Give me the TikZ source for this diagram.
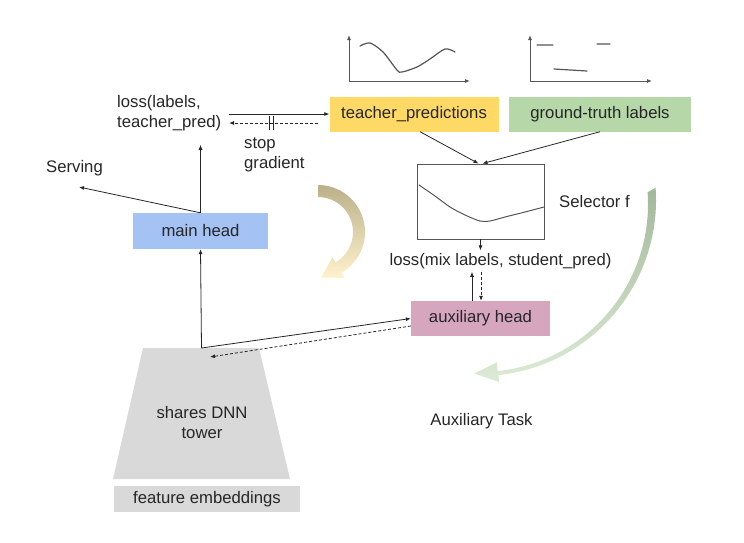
\documentclass[tikz,border=0pt]{standalone}
\usepackage{fontspec}
\setmainfont{Liberation Sans}
\usetikzlibrary{arrows.meta,calc}

\definecolor{predyellow}{HTML}{FFD966}
\definecolor{truthgreen}{HTML}{B6D7A8}
\definecolor{mainblue}{HTML}{A4C2F4}
\definecolor{auxpink}{HTML}{D5A6BD}
\definecolor{towergray}{HTML}{D9D9D9}
\definecolor{plotgray}{HTML}{555555}
\definecolor{loopbrown}{HTML}{BAB08A}
\definecolor{loopyellow}{HTML}{FFF2CC}
\definecolor{selgreen}{HTML}{A3B79A}
\definecolor{selpale}{HTML}{DDEBD6}

\tikzset{
  headbox/.style={minimum height=35pt, inner sep=0pt, text=black!85},
  txt/.style={inner sep=0pt, align=left, text=black!85},
  arr/.style={-{Latex[length=5pt,width=4pt]}, line width=0.8pt, draw=black!85},
  darr/.style={arr, dash pattern=on 3pt off 2pt},
  axis/.style={-{Latex[length=5pt,width=4pt]}, line width=0.9pt, draw=plotgray},
  curve/.style={line width=1.2pt, draw=plotgray, line cap=round},
}

\begin{document}
\begin{tikzpicture}[x=1pt, y=-1pt, font=\fontsize{16.7}{20}\selectfont]
\useasboundingbox (0,0) rectangle (744,542);

% shaded loop arrows
\coordinate (loopc) at (318,232);
\shade[top color=loopbrown, middle color=loopbrown!50!loopyellow, bottom color=loopyellow]
  ($(loopc)+(-90:47)$) arc[start angle=-90, end angle=60, radius=47]
  -- ($(loopc)+(60:53)$) -- ($(loopc)+(60:41)+(150:20)$) -- ($(loopc)+(60:29)$)
  -- ($(loopc)+(60:35)$) arc[start angle=60, end angle=-90, radius=35] -- cycle;
\coordinate (selc) at (480,200);
\shade[top color=selgreen, middle color=selpale!35!white, bottom color=selpale]
  ($(selc)+(-4:176)$) arc[start angle=-4, end angle=84, radius=176]
  -- ($(selc)+(84:183)$) -- ($(selc)+(84:172)+(174:24)$) -- ($(selc)+(84:163)$)
  -- ($(selc)+(0,4)+(84:168)$) arc[start angle=84, end angle=-4, radius=168] -- cycle;

% small plots
\draw[axis] (349,81) -- (349,35);
\draw[axis] (349,81) -- (470,81);
\draw[curve] plot[smooth] coordinates {(360,46) (370,43) (383,52) (397,70) (402,72) (417,67) (430,59) (445,49) (455,52)};
\draw[axis] (530,81) -- (530,35);
\draw[axis] (530,81) -- (652,81);
\draw[curve] (537,45) -- (553,45) (597,44) -- (610,44) (554,69) -- (587,71);

% boxes
\node[headbox, fill=predyellow, minimum width=169pt] (teacher) at (414,114) {teacher\_predictions};
\node[headbox, fill=truthgreen, minimum width=182pt] (truth) at (600,114) {ground-truth labels};
\node[headbox, fill=mainblue, minimum width=135pt, minimum height=36pt] (mainhead) at (200.5,231) {main head};
\node[headbox, fill=auxpink, minimum width=139pt] (auxhead) at (480.5,318.5) {auxiliary head};
\node[draw=plotgray, line width=0.9pt, minimum width=127pt, minimum height=75pt, inner sep=0pt] (selector) at (480.5,201.5) {};
\draw[curve, line width=1pt] plot[smooth] coordinates {(419,185) (435,196) (450,207) (465,215) (480,221) (490,221) (505,217) (525,212) (544,207)};
\fill[towergray] (143,348) -- (259,348) -- (290,479) -- (113,479) -- cycle;
\coordinate (towertop) at (201.5,348);
\node[txt, align=center] (tower) at (202,423) {shares DNN\\tower};
\node[headbox, fill=towergray, minimum width=186pt, minimum height=26pt] (embed) at (207,499) {feature embeddings};

% texts
\node[txt, anchor=west] (losst) at (117,113) {loss(labels,\\teacher\_pred)};
\node[txt, anchor=west] (stopg) at (244,155) {stop\\gradient};
\node[txt] (serving) at (74.5,168) {Serving};
\node[txt] (lossm) at (500.5,261) {loss(mix labels, student\_pred)};
\node[txt] (self) at (594.5,202) {Selector f};
\node[txt] (auxtask) at (481.5,421) {Auxiliary Task};

% connectors
\coordinate (lossout) at (229,114);
\coordinate (lossin) at (229,123);
\coordinate (teachout) at (318,123);
\coordinate (stopmark) at (271,123);
\coordinate (servingin) at (79,187);
\coordinate (towerin) at (210,357);
\draw[arr] (lossout) -- (teacher.west);
\draw[darr] (teachout) -- (lossin);
\draw[line width=0.8pt, draw=black!85] ([xshift=-2pt]stopmark) ++(0,-7) -- ++(0,14)
  ([xshift=2pt]stopmark) ++(0,-7) -- ++(0,14);
\draw[arr] (mainhead.north) -- ++(0,-68);
\draw[arr] (mainhead.north) -- (servingin);
\draw[arr] (towertop) -- (mainhead.south);
\draw[arr] (towertop) -- (auxhead.west);
\draw[darr] ([yshift=-7.5pt]auxhead.west) -- (towerin);
\draw[arr] ([xshift=6pt]teacher.south) -- ([xshift=-2pt]selector.north);
\draw[arr] (truth.south) -- ([xshift=2pt]selector.north);
\draw[arr] (selector.south) -- ++(0,11);
\draw[arr] ([xshift=-8.5pt]auxhead.north) -- ++(0,-29);
\draw[darr] ([xshift=0.5pt]auxhead.north) ++(0,-29) -- ++(0,29);
\end{tikzpicture}
\end{document}
